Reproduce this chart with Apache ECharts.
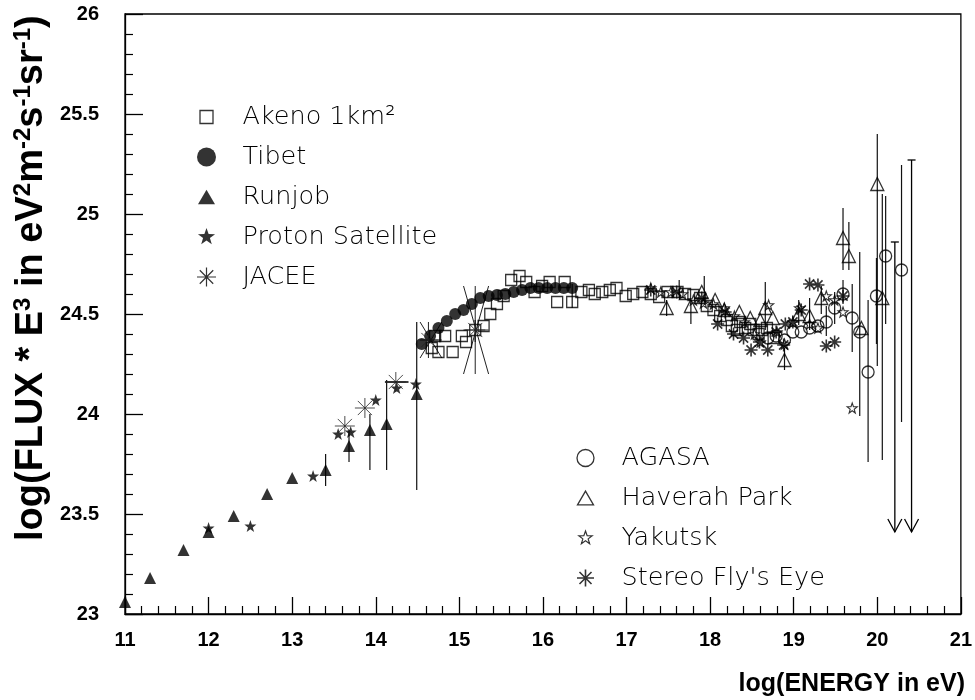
<!DOCTYPE html>
<html><head><meta charset="utf-8">
<script src="https://cdn.jsdelivr.net/npm/echarts@6/dist/echarts.min.js"></script>
<style>html,body{margin:0;padding:0;background:#fff}#c{width:975px;height:700px}</style>
</head><body><div id="c"></div>
<script>
// ---------------- data (log10 E [eV], log10 flux*E^3) ----------------
const akeno = [[14.67,24.33],[14.71,24.39],[14.75,24.31],[14.83,24.39],[14.92,24.31],[15.03,24.39],[15.08,24.36],[15.19,24.42],[15.29,24.44],[15.37,24.50],[15.45,24.55],[15.53,24.59],[15.62,24.67],[15.72,24.69],[15.80,24.66],[15.90,24.61],[15.99,24.64],[16.08,24.66],[16.17,24.56],[16.26,24.66],[16.35,24.56],[16.46,24.61],[16.55,24.62],[16.62,24.60],[16.71,24.61],[16.80,24.62],[16.88,24.63],[16.99,24.59],[17.08,24.60],[17.19,24.61],[17.29,24.60],[17.39,24.585],[17.49,24.61],[17.61,24.61],[17.70,24.60],[17.80,24.595],[17.88,24.58],[17.96,24.54],[18.04,24.52],[18.12,24.49],[18.20,24.47],[18.26,24.44],[18.32,24.42],[18.36,24.46],[18.42,24.43],[18.48,24.45],[18.52,24.42],[18.58,24.40],[18.62,24.42],[18.68,24.43],[18.76,24.38]];
const akenoErr = [[15.19,24.36,24.47],[16.35,24.53,24.65],[17.63,24.58,24.67],[17.93,24.545,24.69]];
const tibet = [[14.55,24.35],[14.65,24.39],[14.75,24.43],[14.85,24.465],[14.95,24.50],[15.05,24.52],[15.15,24.55],[15.25,24.58],[15.35,24.59],[15.45,24.595],[15.55,24.60],[15.65,24.61],[15.75,24.62],[15.85,24.63],[15.95,24.63],[16.05,24.63],[16.15,24.63],[16.25,24.63],[16.35,24.63]];
const runjob = [[11.0,23.06],[11.3,23.18],[11.7,23.32],[12.0,23.41],[12.3,23.49],[12.7,23.60],[13.0,23.68],[13.4,23.72],[13.68,23.84],[13.93,23.92],[14.13,23.95],[14.49,24.10]];
const runjobErr = [[13.40,23.64,23.80],[13.68,23.76,23.92],[13.93,23.72,24.0],[14.13,23.72,24.17],[14.49,23.62,24.46]];
const proton = [[12.0,23.43],[12.5,23.44],[13.25,23.69],[13.55,23.90],[13.70,23.91],[14.0,24.07],[14.25,24.13],[14.48,24.15]];
const jacee = [[13.63,23.94],[13.87,24.03],[14.24,24.16],[14.63,24.37],[15.19,24.42]];
// [x, y, xLow, xHigh, yLow, yHigh]
const jaceeErr = [[14.24,24.16,14.11,14.39,24.16,24.16],[14.63,24.37,14.53,14.79,24.28,24.46],[15.19,24.42,15.05,15.35,24.20,24.64]];
const agasa = [[18.69,24.38],[18.79,24.39],[18.89,24.37],[18.99,24.41],[19.09,24.41],[19.19,24.43],[19.29,24.44],[19.39,24.46],[19.49,24.53],[19.59,24.60],[19.70,24.48],[19.79,24.41],[19.89,24.21],[19.99,24.59],[20.10,24.79],[20.29,24.72]];
const agasaErr = [[19.39,24.39,24.54],[19.49,24.45,24.61],[19.59,24.55,24.67],[19.70,24.31,24.65],[19.79,23.99,24.81],[19.89,23.76,24.57],[19.99,24.35,24.78],[20.10,24.45,25.09],[20.29,23.96,25.245]];
// upper limits: [x, top, arrow tip]
const agasaUL = [[20.21,24.86,23.41],[20.41,25.27,23.41]];
const haverah = [[17.48,24.53],[17.77,24.54],[17.90,24.61],[18.06,24.57],[18.17,24.52],[18.35,24.51],[18.48,24.48],[18.60,24.47],[18.66,24.53],[18.75,24.48],[18.89,24.27],[19.06,24.50],[19.19,24.49],[19.33,24.58],[19.59,24.88],[19.66,24.79],[19.81,24.43],[20.0,25.15],[20.06,24.58]];
const haverahErr = [[17.48,24.49,24.57],[17.77,24.45,24.57],[18.66,24.42,24.66],[18.89,24.22,24.33],[19.06,24.445,24.57],[19.19,24.42,24.58],[19.33,24.50,24.64],[19.59,24.72,25.03],[19.66,24.72,24.96],[20.0,24.24,25.40],[20.06,23.77,25.10]];
const yakutsk = [[17.29,24.63],[17.41,24.61],[17.53,24.61],[17.67,24.60],[17.80,24.57],[17.92,24.555],[18.04,24.55],[18.17,24.53],[18.29,24.49],[18.41,24.46],[18.53,24.40],[18.60,24.36],[18.70,24.545],[18.80,24.41],[18.89,24.35],[18.99,24.46],[19.07,24.53],[19.19,24.45],[19.29,24.43],[19.39,24.59],[19.49,24.57],[19.59,24.51],[19.70,24.03]];
const stereo = [[17.29,24.62],[17.60,24.61],[17.90,24.58],[18.09,24.45],[18.18,24.51],[18.28,24.40],[18.40,24.38],[18.49,24.32],[18.59,24.36],[18.69,24.32],[18.79,24.41],[18.88,24.345],[18.90,24.45],[18.99,24.46],[19.09,24.52],[19.19,24.65],[19.29,24.645],[19.39,24.34],[19.49,24.36],[19.59,24.59]];
const xRange = [11, 21];
const yRange = [23, 26];
const legendLeft = ['Akeno 1km²', 'Tibet', 'Runjob', 'Proton Satellite', 'JACEE'];
const legendRight = ['AGASA', 'Haverah Park', 'Yakutsk', "Stereo Fly's Eye"];

// ---------------- symbol helpers ----------------
function starPts(cx, cy, R, r) {
  const p = [];
  for (let i = 0; i < 10; i++) {
    const a = -Math.PI / 2 + i * Math.PI / 5, rr = i % 2 ? r : R;
    p.push((cx + rr * Math.cos(a)).toFixed(2) + ',' + (cy + rr * Math.sin(a)).toFixed(2));
  }
  return 'M' + p.join('L') + 'Z';
}
function pad(body, box) { return 'path://M0,0M' + box + ',' + box + body; }
const STAR = 'path://' + starPts(10, 10, 10, 4);
const AST = 'path://M0,10L20,10M10,0L10,20M2.93,2.93L17.07,17.07M17.07,2.93L2.93,17.07';
function astPad(s) { const c = 10, h = s / 2, d = h * 0.7071; return pad('M' + (c - h) + ',' + c + 'L' + (c + h) + ',' + c + 'M' + c + ',' + (c - h) + 'L' + c + ',' + (c + h) + 'M' + (c - d) + ',' + (c - d) + 'L' + (c + d) + ',' + (c + d) + 'M' + (c + d) + ',' + (c - d) + 'L' + (c - d) + ',' + (c + d), 20); }
function sqPad(s) { const a = 10 - s / 2, b = 10 + s / 2; return pad('M' + a + ',' + a + 'L' + b + ',' + a + 'L' + b + ',' + b + 'L' + a + ',' + b + 'Z', 20); }
function triPad(s) { const h = s * 0.866, t = 10 - h / 2, bt = 10 + h / 2; return pad('M10,' + t + 'L' + (10 + s / 2) + ',' + bt + 'L' + (10 - s / 2) + ',' + bt + 'Z', 20); }
function circPad(s) { const r = s / 2; return pad('M' + (10 - r) + ',10A' + r + ',' + r + ',0,1,1,' + (10 + r) + ',10A' + r + ',' + r + ',0,1,1,' + (10 - r) + ',10Z', 20); }
function starPad(s) { return pad(starPts(10, 10, s / 2, s / 5), 20); }

const K = '#000';
const hollow = { color: 'none', borderColor: K, borderWidth: 1.3 };
const filled = { color: K, borderColor: K, borderWidth: 0 };

function errBars(params, api) {
  const x = api.value(0), lo = api.coord([x, api.value(1)]), hi = api.coord([x, api.value(2)]);
  return { type: 'line', shape: { x1: lo[0], y1: lo[1], x2: hi[0], y2: hi[1] }, style: { stroke: '#111', lineWidth: 1.2 } };
}
function upperLimits(params, api) {
  const x = api.value(0), t = api.coord([x, api.value(1)]), b = api.coord([x, api.value(2)]);
  const st = { stroke: '#000', lineWidth: 1.3, fill: 'none' };
  return { type: 'group', children: [
    { type: 'line', shape: { x1: t[0], y1: t[1], x2: b[0], y2: b[1] }, style: st },
    { type: 'line', shape: { x1: t[0] - 4, y1: t[1], x2: t[0] + 4, y2: t[1] }, style: st },
    { type: 'polyline', shape: { points: [[b[0] - 7, b[1] - 13], [b[0], b[1]], [b[0] + 7, b[1] - 13]] }, style: st }
  ] };
}
function jaceeBars(params, api) {
  const y = api.value(1), x = api.value(0);
  const l = api.coord([api.value(2), y]), r = api.coord([api.value(3), y]);
  const b = api.coord([x, api.value(4)]), t = api.coord([x, api.value(5)]);
  const st = { stroke: '#222', lineWidth: 1 };
  return { type: 'group', children: [
    { type: 'line', shape: { x1: l[0], y1: l[1], x2: r[0], y2: r[1] }, style: st },
    { type: 'line', shape: { x1: b[0], y1: b[1], x2: t[0], y2: t[1] }, style: st },
    { type: 'line', shape: { x1: l[0], y1: b[1], x2: r[0], y2: t[1] }, style: st },
    { type: 'line', shape: { x1: l[0], y1: t[1], x2: r[0], y2: b[1] }, style: st }
  ] };
}
function scat(name, data, symbol, size, style, z) {
  return { type: 'scatter', name: name, data: data, symbol: symbol, symbolSize: size, itemStyle: style, z: z || 3, clip: true, animation: false, emphasis: { disabled: true } };
}
function cust(name, data, render, dims) {
  return { type: 'custom', name: name, data: data, renderItem: render, encode: { x: 0, y: dims }, z: 2, animation: false, silent: true };
}

const chart = echarts.init(document.getElementById('c'), null, { renderer: 'canvas' });
const tickFont = { fontFamily: 'Liberation Sans, Arial, sans-serif', fontWeight: 'bold', fontSize: 20, color: '#000' };
const legFont = { fontFamily: 'DejaVu Sans, sans-serif', fontWeight: 200, fontSize: 25.5, color: '#000' };
const legBase = { orient: 'vertical', itemWidth: 62, itemHeight: 20, itemGap: 14, selectedMode: false, textStyle: legFont, padding: 0 };

chart.setOption({
  animation: false,
  backgroundColor: '#fff',
  grid: { left: 125, right: 10, top: 14, bottom: 86, show: true, borderColor: '#000', borderWidth: 1.3, backgroundColor: 'transparent' },
  xAxis: {
    type: 'value', min: xRange[0], max: xRange[1], interval: 1,
    axisLine: { show: true, onZero: false, lineStyle: { color: '#000', width: 1.3 } },
    axisTick: { show: true, inside: true, length: 17, lineStyle: { color: '#000', width: 1.3 } },
    minorTick: { show: true, splitNumber: 5, length: 8, lineStyle: { color: '#000', width: 1.2 } },
    splitLine: { show: false },
    axisLabel: Object.assign({ margin: 16 }, tickFont)
  },
  yAxis: {
    type: 'value', min: yRange[0], max: yRange[1], interval: 0.5,
    axisLine: { show: true, onZero: false, lineStyle: { color: '#000', width: 1.3 } },
    axisTick: { show: true, inside: true, length: 18, lineStyle: { color: '#000', width: 1.3 } },
    minorTick: { show: true, splitNumber: 5, length: 8, lineStyle: { color: '#000', width: 1.2 } },
    splitLine: { show: false },
    axisLabel: Object.assign({ margin: 26, formatter: v => String(+v.toFixed(1)) }, tickFont)
  },
  legend: [
    Object.assign({ left: 194, top: 104, data: [
      { name: legendLeft[0], icon: sqPad(13), itemStyle: hollow },
      { name: legendLeft[1], icon: circPad(19), itemStyle: filled },
      { name: legendLeft[2], icon: triPad(17), itemStyle: filled },
      { name: legendLeft[3], icon: starPad(18), itemStyle: filled },
      { name: legendLeft[4], icon: astPad(19), itemStyle: { color: 'none', borderColor: K, borderWidth: 1.2 } }
    ] }, legBase),
    Object.assign({ left: 573, top: 445, data: [
      { name: legendRight[0], icon: circPad(17), itemStyle: hollow },
      { name: legendRight[1], icon: triPad(16), itemStyle: hollow },
      { name: legendRight[2], icon: starPad(14), itemStyle: { color: 'none', borderColor: K, borderWidth: 1.2 } },
      { name: legendRight[3], icon: astPad(17), itemStyle: { color: 'none', borderColor: K, borderWidth: 1.6 } }
    ] }, legBase)
  ],
  graphic: [
    { type: 'text', x: 965, y: 684, style: { text: 'log(ENERGY in eV)', fontFamily: 'Liberation Sans, Arial, sans-serif', fontWeight: 'bold', fontSize: 25, fill: '#000', align: 'right', verticalAlign: 'middle' } },
    { type: 'text', x: 32, y: 541, rotation: Math.PI / 2, style: {
      text: 'log(FLUX * E{s|3} in eV{s|2}m{s|-2}s{s|-1}sr{s|-1})',
      fontFamily: 'Liberation Sans, Arial, sans-serif', fontWeight: 'bold', fontSize: 38, lineHeight: 42, fill: '#000', align: 'left', verticalAlign: 'middle',
      rich: { s: { fontFamily: 'Liberation Sans, Arial, sans-serif', fontWeight: 'bold', fontSize: 24, lineHeight: 25, verticalAlign: 'top', fill: '#000' } }
    } }
  ],
  series: [
    cust('runjobErr', runjobErr, errBars, [1, 2]),
    cust('akenoErr', akenoErr, errBars, [1, 2]),
    cust('haverahErr', haverahErr, errBars, [1, 2]),
    cust('agasaErr', agasaErr, errBars, [1, 2]),
    cust('agasaUL', agasaUL, upperLimits, [1, 2]),
    cust('jaceeErr', jaceeErr, jaceeBars, [1]),
    scat(legendLeft[0], akeno, 'rect', 11, hollow, 3),
    scat(legendLeft[1], tibet, 'circle', 12, filled, 4),
    scat(legendLeft[2], runjob, 'triangle', 12, filled, 4),
    scat(legendLeft[3], proton, STAR, 12, filled, 4),
    scat(legendLeft[4], jacee, AST, 20, { color: 'none', borderColor: '#222', borderWidth: 1 }, 4),
    scat(legendRight[0], agasa, 'circle', 12, hollow, 3),
    scat(legendRight[1], haverah, 'triangle', 13, hollow, 3),
    scat(legendRight[2], yakutsk, STAR, 10, { color: 'none', borderColor: K, borderWidth: 1.1 }, 3),
    scat(legendRight[3], stereo, AST, 13, { color: 'none', borderColor: K, borderWidth: 1.6 }, 3)
  ]
});
</script>
</body></html>
